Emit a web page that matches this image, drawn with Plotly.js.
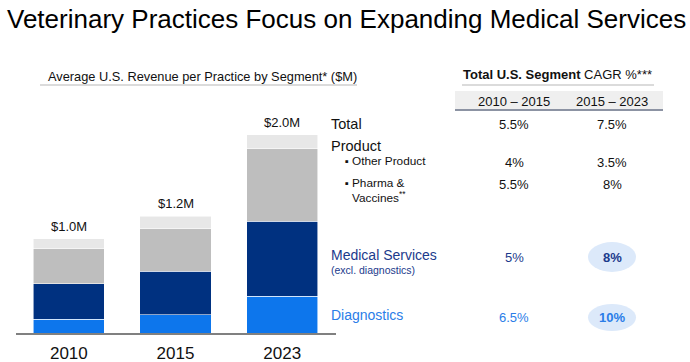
<!DOCTYPE html>
<html>
<head>
<meta charset="utf-8">
<script src="https://cdn.plot.ly/plotly-3.0.1.min.js"></script>
<style>html,body{margin:0;padding:0;background:#fff;}#chart{width:690px;height:362px;}</style>
</head>
<body>
<div id="chart"></div>
<script>
// ---- Data ----
const years = ['2010', '2015', '2023'];
const diagnostics = [0.14, 0.185, 0.37];
const medicalServices = [0.36, 0.44, 0.76];
const pharmaVaccines = [0.35, 0.43, 0.73];
const otherProduct = [0.10, 0.125, 0.145];
const totalLabels = ['$1.0M', '$1.2M', '$2.0M'];

const periods = ['2010 \u2013 2015', '2015 \u2013 2023'];
const cagrTotal = ['5.5%', '7.5%'];
const cagrOtherProduct = ['4%', '3.5%'];
const cagrPharma = ['5.5%', '8%'];
const cagrMedical = ['5%', '8%'];
const cagrDiagnostics = ['6.5%', '10%'];

// ---- Helpers (pixel -> paper) ----
const W = 690, H = 362;
const px = x => x / W;
const py = y => 1 - y / H;
const FONT = 'Liberation Sans, Arial, sans-serif';
const NAVY = '#003180', BLUE = '#0d76ec';
const NAVY_T = '#1b3a8c', BLUE_T = '#2a7de8';

const sepLine = {color: 'rgba(255,255,255,0.7)', width: 0.8};
const traces = [
  {name: 'Diagnostics', x: years, y: diagnostics, type: 'bar', marker: {color: BLUE, line: sepLine}},
  {name: 'Medical Services', x: years, y: medicalServices, type: 'bar', marker: {color: NAVY, line: sepLine}},
  {name: 'Pharma & Vaccines', x: years, y: pharmaVaccines, type: 'bar', marker: {color: '#bebebe', line: sepLine}},
  {name: 'Other Product', x: years, y: otherProduct, type: 'bar', marker: {color: '#e7e7e7', line: sepLine}}
];

const totals = years.map((_, i) => diagnostics[i] + medicalServices[i] + pharmaVaccines[i] + otherProduct[i]);

const ann = [];
years.forEach((yr, i) => {
  ann.push({x: i, y: totals[i], xref: 'x', yref: 'y', text: totalLabels[i], showarrow: false,
    yanchor: 'bottom', yshift: 3, font: {family: FONT, size: 13, color: '#111'}});
});
function t(x, y, text, opts) {
  const o = Object.assign({xanchor: 'left', size: 13, color: '#111'}, opts || {});
  ann.push({x: px(x), y: py(y), xref: 'paper', yref: 'paper', text: text, showarrow: false,
    xanchor: o.xanchor, yanchor: 'middle', align: o.align || 'left',
    font: {family: FONT, size: o.size, color: o.color}});
}
// subtitle and CAGR header
t(46, 76, 'Average U.S. Revenue per Practice by Segment* ($M)', {size: 12.8});
t(557, 75, '<b>Total U.S. Segment</b> CAGR %***', {xanchor: 'center', size: 13});
const colX = [514, 612];
periods.forEach((p, i) => t(colX[i], 101, p, {xanchor: 'center', size: 13}));
// rows
t(329, 124, 'Total', {size: 14.5});
cagrTotal.forEach((v, i) => t(colX[i], 125, v, {xanchor: 'center', size: 13}));
t(329, 146, 'Product', {size: 14.5});
t(343, 161, '\u25aa', {size: 11});
t(350, 161, 'Other Product', {size: 11.8});
cagrOtherProduct.forEach((v, i) => t(colX[i], 162, v, {xanchor: 'center', size: 13}));
t(343, 183, '\u25aa', {size: 11});
t(350, 183, 'Pharma &', {size: 11.8});
t(350, 197, 'Vaccines<sup>**</sup>', {size: 11.8});
cagrPharma.forEach((v, i) => t(colX[i], 184, v, {xanchor: 'center', size: 13}));
t(329, 255, 'Medical Services', {size: 14, color: NAVY_T});
t(329, 270, '(excl. diagnostics)', {size: 10.5, color: NAVY_T});
t(colX[0], 257, cagrMedical[0], {xanchor: 'center', size: 13, color: NAVY_T});
t(colX[1], 257, '<b>' + cagrMedical[1] + '</b>', {xanchor: 'center', size: 13, color: NAVY_T});
t(329, 315, 'Diagnostics', {size: 14, color: BLUE_T});
t(colX[0], 317, cagrDiagnostics[0], {xanchor: 'center', size: 13, color: BLUE_T});
t(colX[1], 317, '<b>' + cagrDiagnostics[1] + '</b>', {xanchor: 'center', size: 13, color: BLUE_T});

const shapes = [
  {type: 'line', xref: 'paper', yref: 'paper', x0: px(40), x1: px(357), y0: py(85), y1: py(85), line: {color: '#cfcfcf', width: 1.5}},
  {type: 'line', xref: 'paper', yref: 'paper', x0: px(462), x1: px(654), y0: py(85), y1: py(85), line: {color: '#cfcfcf', width: 1.5}},
  {type: 'rect', xref: 'paper', yref: 'paper', x0: px(455), x1: px(663), y0: py(91), y1: py(110), fillcolor: '#efefef', line: {width: 0}, layer: 'below'},
  {type: 'line', xref: 'paper', yref: 'paper', x0: px(455), x1: px(663), y0: py(110), y1: py(110), line: {color: '#8c93a3', width: 2}},
  {type: 'circle', xref: 'paper', yref: 'paper', x0: px(588), x1: px(636), y0: py(242), y1: py(272), fillcolor: '#dce9fa', line: {width: 0}, layer: 'below'},
  {type: 'circle', xref: 'paper', yref: 'paper', x0: px(588), x1: px(636), y0: py(304), y1: py(331), fillcolor: '#dce9fa', line: {width: 0}, layer: 'below'}
];

const plotTop = 100, plotBottom = 333, pxPerM = 99;
const layout = {
  width: W, height: H,
  margin: {l: 0, r: 0, t: 0, b: 0},
  paper_bgcolor: '#fff', plot_bgcolor: 'rgba(0,0,0,0)',
  barmode: 'stack', bargap: 0.333,
  showlegend: false,
  title: {text: 'Veterinary Practices Focus on Expanding Medical Services', x: px(7), xanchor: 'left',
    y: py(19), yanchor: 'middle', xref: 'paper', yref: 'paper', font: {family: FONT, size: 26, color: '#000'}},
  xaxis: {domain: [px(15.5), px(335.5)], type: 'category', range: [-0.5, 2.5], autorange: false,
    showline: true, linecolor: '#808080', linewidth: 2,
    showgrid: false, zeroline: false, ticks: 'outside', ticklen: 4, tickcolor: 'rgba(0,0,0,0)',
    tickfont: {family: FONT, size: 17, color: '#111'}, fixedrange: true},
  yaxis: {domain: [1 - plotBottom / H, 1 - plotTop / H], range: [0, (plotBottom - plotTop) / pxPerM], autorange: false,
    visible: false, showgrid: false, zeroline: false, fixedrange: true},
  annotations: ann,
  shapes: shapes,
  font: {family: FONT}
};

Plotly.newPlot('chart', traces, layout, {displayModeBar: false, staticPlot: true});
</script>
</body>
</html>
